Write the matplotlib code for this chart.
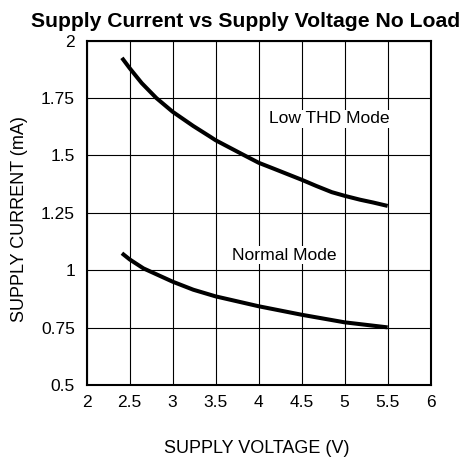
import numpy as np
import matplotlib.pyplot as plt

plt.rcParams['font.family'] = ['Liberation Sans', 'DejaVu Sans']

# supply voltage (V) and supply current (mA), Low THD mode
v_low = [2.41, 2.5, 2.64, 2.81, 3.0, 3.24, 3.43, 3.5, 3.82, 4.0, 4.17,
         4.5, 4.67, 4.85, 5.0, 5.18, 5.33, 5.5]
i_low = [1.925, 1.880, 1.815, 1.750, 1.690, 1.628, 1.583, 1.566, 1.503, 1.468, 1.443,
         1.394, 1.367, 1.340, 1.324, 1.307, 1.295, 1.280]
# Normal mode
v_norm = [2.41, 2.5, 2.66, 3.0, 3.24, 3.5, 4.0, 4.5, 5.0, 5.5]
i_norm = [1.074, 1.047, 1.008, 0.950, 0.915, 0.886, 0.843, 0.806, 0.773, 0.751]

xticks = [2, 2.5, 3, 3.5, 4, 4.5, 5, 5.5, 6]
yticks = [0.5, 0.75, 1, 1.25, 1.5, 1.75, 2]

fig = plt.figure(figsize=(4.68, 4.59), dpi=100)
ax = fig.add_axes([0.1852, 0.1612, 0.735, 0.7503])

ax.plot(v_low, i_low, color="black", lw=2.9, zorder=3, solid_capstyle="butt",
        solid_joinstyle="round")
ax.plot(v_norm, i_norm, color="black", lw=2.9, zorder=3, solid_capstyle="butt",
        solid_joinstyle="round")

ax.set_xlim(2, 6)
ax.set_ylim(0.5, 2)
ax.set_xticks(xticks, [f"{t:g}" for t in xticks])
ax.set_yticks(yticks, [f"{t:g}" for t in yticks])
ax.tick_params(length=0, labelsize=12.5)
ax.tick_params(axis="y", pad=8.4)
ax.tick_params(axis="x", pad=7)
ax.grid(color="black", lw=0.8)
ax.set_axisbelow(True)
for s in ax.spines.values():
    s.set_linewidth(1.5)

box = dict(facecolor="white", edgecolor="none", pad=1)
ax.text(4.82, 1.659, "Low THD Mode", ha="center", va="center", fontsize=12.6, bbox=box, zorder=2)
ax.text(4.30, 1.065, "Normal Mode", ha="center", va="center", fontsize=12.6, bbox=box, zorder=2)

fig.text(256.5 / 468, 6 / 459, "SUPPLY VOLTAGE (V)", ha="center", va="baseline", fontsize=13)
fig.text(20 / 468, 1 - 219 / 459, "SUPPLY CURRENT (mA)", ha="center", va="center",
         rotation=90, fontsize=13)

fig.text(245.5 / 468, 1 - 26.7 / 459, "Supply Current vs Supply Voltage No Load",
         ha="center", va="baseline", fontsize=15.2, fontweight="bold")

plt.savefig("out.png", dpi=100)
